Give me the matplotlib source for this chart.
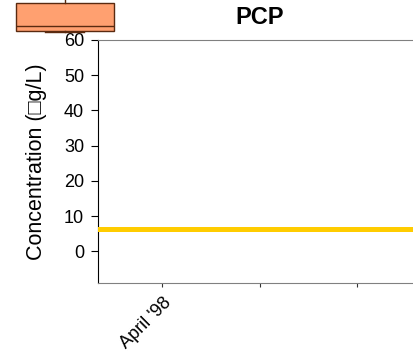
import matplotlib
matplotlib.use("Agg")
import matplotlib.pyplot as plt

plt.rcParams['font.family'] = ['Liberation Sans', 'DejaVu Sans']

# data
categories = ["April '98", "", ""]
cat_pos = [0, 1, 2]
level_value = 6.2          # PCP level line
box_stats = [dict(med=63.9, q1=62.5, q3=70.5, whislo=62.2, whishi=80.0, fliers=[])]
box_pos = [-1]
yticks = [0, 10, 20, 30, 40, 50, 60]

fig = plt.figure(figsize=(4.13, 3.55), dpi=100)
ax = fig.add_axes([98 / 413, 1 - 283 / 355, 357 / 413, (283 - 40) / 355])

ax.axhline(level_value, color='#FFCC00', lw=3.6, zorder=3)

bp = ax.bxp(box_stats, positions=box_pos, widths=1.0, capwidths=0.4,
            patch_artist=True, showfliers=False, manage_ticks=False)
for b in bp['boxes']:
    b.set_facecolor('#FFA070')
    b.set_edgecolor('#5a2a10')
    b.set_linewidth(1.0)
for key in ('boxes', 'medians', 'whiskers', 'caps'):
    for a in bp[key]:
        a.set_clip_on(False)
        if key != 'boxes':
            a.set_color('#5a2a10')
            a.set_linewidth(1.0)

ax.set_xlim(-0.66, 3.0)
ax.set_ylim(-9, 60)
ax.set_yticks(yticks)
ax.set_xticks(cat_pos)
ax.set_xticklabels(categories, rotation=45, ha='right', rotation_mode='anchor', fontsize=13)
ax.tick_params(axis='y', labelsize=13, direction='out', length=5, pad=5)
ax.tick_params(axis='x', direction='out', length=3, color='#333333', pad=5)

ax.spines['left'].set_color('black')
for s in ('top', 'bottom', 'right'):
    ax.spines[s].set_color('#808080')

ax.set_ylabel('Concentration (\u25a1g/L)', fontsize=15.5, labelpad=12)
fig.text(260 / 413, 1 - 17 / 355, 'PCP', ha='center', va='center', fontsize=17, fontweight='bold')

fig.savefig('out.png', dpi=100)
